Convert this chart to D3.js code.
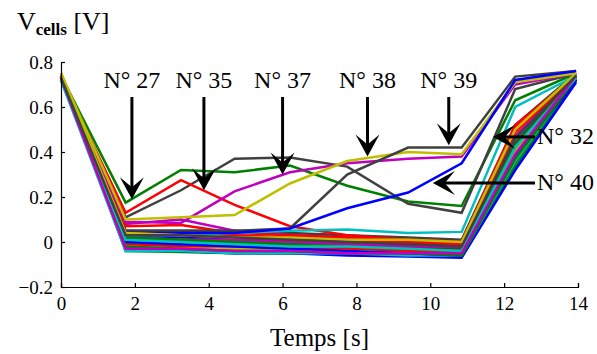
<!DOCTYPE html>
<html><head><meta charset="utf-8">
<script src="https://cdn.jsdelivr.net/npm/d3@7"></script>
<style>
body{margin:0;background:#fff}
svg{display:block}
text{font-family:"Liberation Serif","Times New Roman",serif;fill:#000}
</style>
</head><body>
<svg id="chart" width="597" height="354"></svg>
<script>
// ---------- data ----------
const times = [0, 1.75, 3.25, 4.7, 6.2, 7.75, 9.4, 10.85, 12.3, 13.95];
const firstCell = 5; // cell number of the first series
const cellVoltages = [
  [0.73, 0.02, 0.01, 0.00, -0.01, -0.02, -0.03, -0.04, 0.42, 0.72],   // 5
  [0.74, 0.00, -0.01, -0.02, -0.02, -0.03, -0.04, -0.05, 0.40, 0.73], // 6
  [0.74, 0.05, 0.04, 0.03, 0.02, 0.01, 0.00, -0.01, 0.50, 0.74],      // 7
  [0.72, -0.02, -0.03, -0.03, -0.04, -0.04, -0.05, -0.06, 0.38, 0.73],// 8
  [0.73, 0.01, 0.00, -0.01, -0.01, -0.02, -0.03, -0.03, 0.45, 0.74],  // 9
  [0.75, 0.03, 0.02, 0.02, 0.01, 0.01, 0.00, -0.01, 0.48, 0.74],      // 10
  [0.73, 0.05, 0.05, 0.05, 0.04, 0.03, 0.02, 0.01, 0.52, 0.75],       // 11
  [0.73, -0.01, -0.02, -0.03, -0.04, -0.05, -0.05, -0.06, 0.36, 0.72],// 12
  [0.74, -0.03, -0.04, -0.04, -0.05, -0.05, -0.06, -0.06, 0.35, 0.73],// 13
  [0.74, 0.03, 0.02, 0.01, 0.00, -0.01, -0.01, -0.02, 0.47, 0.74],    // 14
  [0.72, 0.00, -0.01, -0.01, -0.02, -0.03, -0.03, -0.04, 0.44, 0.73], // 15
  [0.73, 0.08, 0.10, 0.05, 0.03, 0.02, 0.01, 0.00, 0.50, 0.74],       // 16
  [0.75, 0.01, 0.00, -0.01, -0.02, -0.02, -0.03, -0.04, 0.43, 0.74],  // 17
  [0.73, -0.02, -0.03, -0.03, -0.04, -0.05, -0.05, -0.06, 0.37, 0.73],// 18
  [0.73, 0.03, 0.02, 0.02, 0.01, 0.00, -0.01, -0.02, 0.46, 0.72],     // 19
  [0.74, -0.04, -0.045, -0.05, -0.05, -0.055, -0.06, -0.065, 0.33, 0.73], // 20
  [0.74, 0.07, 0.075, 0.04, 0.03, 0.02, 0.01, 0.00, 0.51, 0.74],      // 21
  [0.72, 0.02, 0.01, 0.00, 0.00, -0.01, -0.02, -0.03, 0.45, 0.73],    // 22
  [0.73, -0.01, -0.02, -0.02, -0.03, -0.04, -0.04, -0.05, 0.40, 0.74],// 23
  [0.75, 0.00, -0.01, -0.02, -0.03, -0.03, -0.04, -0.05, 0.41, 0.74], // 24
  [0.73, 0.01, 0.01, 0.00, -0.01, -0.02, -0.02, -0.03, 0.44, 0.74],   // 25
  [0.73, -0.03, -0.04, -0.05, -0.05, -0.06, -0.065, -0.07, 0.32, 0.71], // 26
  [0.74, 0.175, 0.32, 0.31, 0.34, 0.25, 0.18, 0.16, 0.63, 0.75],      // 27
  [0.74, -0.01, -0.02, -0.02, -0.03, -0.03, -0.04, -0.04, 0.42, 0.74],// 28
  [0.72, -0.04, -0.04, -0.05, -0.05, -0.05, -0.06, -0.06, 0.36, 0.73],// 29
  [0.73, 0.02, 0.01, 0.01, 0.00, -0.01, -0.02, -0.02, 0.47, 0.74],    // 30
  [0.75, -0.02, -0.03, -0.03, -0.04, -0.04, -0.05, -0.05, 0.39, 0.74],// 31
  [0.73, 0.11, 0.23, 0.37, 0.375, 0.335, 0.17, 0.13, 0.68, 0.75],     // 32
  [0.73, 0.00, -0.01, -0.02, -0.03, -0.04, -0.05, -0.06, 0.38, 0.72], // 33
  [0.74, 0.02, 0.01, 0.00, -0.01, -0.02, -0.03, -0.04, 0.43, 0.73],   // 34
  [0.73, 0.13, 0.275, 0.165, 0.07, 0.03, 0.01, 0.00, 0.52, 0.74],     // 35
  [0.72, 0.03, 0.03, 0.04, 0.05, 0.055, 0.04, 0.045, 0.60, 0.74],     // 36
  [0.73, 0.09, 0.085, 0.225, 0.31, 0.35, 0.37, 0.38, 0.70, 0.75],     // 37
  [0.75, 0.10, 0.11, 0.12, 0.26, 0.36, 0.40, 0.39, 0.71, 0.75],       // 38
  [0.73, 0.05, 0.05, 0.05, 0.06, 0.30, 0.42, 0.42, 0.735, 0.76],      // 39
  [0.73, 0.04, 0.04, 0.04, 0.06, 0.15, 0.22, 0.35, 0.72, 0.76],       // 40
  [0.74, -0.02, -0.03, -0.04, -0.04, -0.05, -0.05, -0.06, 0.37, 0.73],// 41
  [0.74, 0.04, 0.03, 0.02, 0.01, 0.00, 0.00, -0.01, 0.49, 0.74],      // 42
  [0.72, 0.01, 0.00, -0.01, -0.02, -0.02, -0.03, -0.04, 0.42, 0.73],  // 43
  [0.73, -0.03, -0.03, -0.04, -0.04, -0.05, -0.05, -0.05, 0.39, 0.74],// 44
  [0.75, 0.04, 0.03, 0.02, 0.02, 0.01, 0.01, 0.00, 0.50, 0.75],       // 45
  [0.73, 0.03, 0.03, 0.02, 0.01, 0.00, -0.01, -0.02, 0.46, 0.74]      // 46
];
const xTicks = [0, 2, 4, 6, 8, 10, 12, 14];
const yTicks = [-0.2, 0, 0.2, 0.4, 0.6, 0.8];
const downLabels = ["N° 27", "N° 35", "N° 37", "N° 38", "N° 39"];
const downTips = [[1.92, 0.19], [3.87, 0.23], [6.0, 0.30], [8.3, 0.38], [10.5, 0.43]];
const sideLabels = ["N° 32", "N° 40"];
const sideTips = [[11.7, 0.467], [10.07, 0.262]];
const xLabel = "Temps [s]";

// ---------- layout ----------
const colorOrder = ["#0000ff", "#008000", "#ff0000", "#00bfbf", "#bf00bf", "#bfbf00", "#404040"];
const svg = d3.select("#chart");
const x = d3.scaleLinear().domain([0, 14]).range([61, 578]);
const y = d3.scaleLinear().domain([-0.2, 0.8]).range([287, 62]);

const line = d3.line().x((d, i) => x(times[i])).y(d => y(d));
svg.append("g").selectAll("path").data(cellVoltages).join("path")
  .attr("d", d => line(d))
  .attr("fill", "none")
  .attr("stroke", (d, i) => colorOrder[i % 7])
  .attr("stroke-width", 2.5)
  .attr("stroke-linejoin", "miter");

// axes
const fmt = d => d === 0 ? "0" : d3.format(".1f")(d);
const xAxis = d3.axisBottom(x).tickValues(xTicks).tickSize(-4).tickPadding(10).tickFormat(d3.format("d"));
const yAxis = d3.axisLeft(y).tickValues(yTicks).tickSize(-4).tickPadding(8).tickFormat(fmt);
const gx = svg.append("g").attr("transform", `translate(0,${y(-0.2)})`).call(xAxis);
const gy = svg.append("g").attr("transform", `translate(${x(0)},0)`).call(yAxis);
[gx, gy].forEach(g => {
  g.attr("font-family", null);
  g.select(".domain").attr("stroke", "#000").attr("stroke-width", 1.2);
  g.selectAll(".tick line").attr("stroke", "#000").attr("stroke-width", 1.2);
  g.selectAll(".tick text").attr("font-size", 19).attr("fill", "#000");
});
gx.selectAll(".tick text").attr("dy", "0.71em");

svg.append("text").attr("x", (x(0) + x(14)) / 2).attr("y", 346).attr("text-anchor", "middle")
  .attr("font-size", 25).text(xLabel);

const title = svg.append("text").attr("x", 17).attr("y", 30).attr("font-size", 26);
title.append("tspan").text("V");
title.append("tspan").attr("font-size", 17).attr("font-weight", "bold").attr("dy", 5).text("cells");
title.append("tspan").attr("dy", -5).text(" [V]");

// arrows
function arrowHead(g, tx, ty, dir) {
  const L = 22, W = 12, N = 12;
  let pts;
  if (dir === "down") pts = [[tx, ty], [tx - W, ty - L], [tx, ty - N], [tx + W, ty - L]];
  else pts = [[tx, ty], [tx + L, ty - W], [tx + N, ty], [tx + L, ty + W]];
  g.append("path").attr("d", "M" + pts.map(p => p.join(",")).join("L") + "Z").attr("fill", "#000");
}
const ann = svg.append("g");
const arrowTopPx = 97;
downTips.forEach(([t, v], i) => {
  const px = x(t), py = y(v);
  ann.append("line").attr("x1", px).attr("x2", px).attr("y1", arrowTopPx).attr("y2", py - 10)
    .attr("stroke", "#000").attr("stroke-width", 3);
  arrowHead(ann, px, py, "down");
  ann.append("text").attr("x", px).attr("y", arrowTopPx - 9).attr("text-anchor", "middle")
    .attr("font-size", 24).text(downLabels[i]);
});
const sideTailPx = 535;
sideTips.forEach(([t, v], i) => {
  const px = x(t), py = y(v);
  ann.append("line").attr("x1", sideTailPx).attr("x2", px + 10).attr("y1", py).attr("y2", py)
    .attr("stroke", "#000").attr("stroke-width", 3);
  arrowHead(ann, px, py, "left");
  ann.append("text").attr("x", sideTailPx + 2).attr("y", py + 7).attr("font-size", 24).text(sideLabels[i]);
});
</script>
</body></html>
